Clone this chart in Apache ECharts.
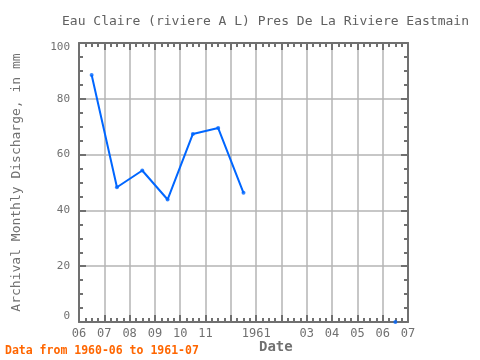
<!DOCTYPE html>
<html>
<head>
<meta charset="utf-8">
<script src="https://cdn.jsdelivr.net/npm/echarts@6/dist/echarts.min.js"></script>
<style>html,body{margin:0;padding:0;background:#fff}#c{width:480px;height:360px}</style>
</head>
<body>
<div id="c"></div>
<script>
const months = ['1960-06','1960-07','1960-08','1960-09','1960-10','1960-11','1960-12','1961-01','1961-02','1961-03','1961-04','1961-05','1961-06'];
const discharge = [88.5, 48.3, 54.3, 43.9, 67.4, 69.5, 46.3, null, null, null, null, null, 0];
const xTickLabels = ['06','07','08','09','10','11','','1961','','03','04','05','06','07'];
const yTicks = [0, 20, 40, 60, 80, 100];

const FONT = 'DejaVu Sans Mono';
const frame = '#707070';
const gridc = '#b4b4b4';
const txt = '#707070';

// position each month at mid-month on a month-index axis
const pts = months.map((m, i) => [i + 0.5, discharge[i]]);
const dots = pts.filter(p => p[1] !== null);

const chart = echarts.init(document.getElementById('c'), null, {renderer: 'canvas'});

function axisBase(min, max, interval) {
  return {
    type: 'value', min: min, max: max, interval: interval,
    axisLine: {show: true, onZero: false, lineStyle: {color: frame, width: 2}},
    axisTick: {show: true, inside: true, length: 7, lineStyle: {color: frame, width: 2}},
    minorTick: {show: true, splitNumber: 4, length: 4, lineStyle: {color: frame, width: 2}}
  };
}

chart.setOption({
  animation: false,
  backgroundColor: '#fff',
  title: {
    text: 'Eau Claire (riviere A L) Pres De La Riviere Eastmain',
    left: 57, top: 10,
    textStyle: {fontFamily: FONT, fontSize: 13, fontWeight: 'normal', color: '#606060'}
  },
  grid: {left: 79, right: 72, top: 43, bottom: 38, containLabel: false},
  xAxis: [
    Object.assign(axisBase(0, 13, 1), {
      position: 'bottom',
      splitLine: {show: true, lineStyle: {color: gridc, width: 1.5}},
      axisLabel: {
        show: true, margin: 6, fontFamily: FONT, fontSize: 12, color: txt,
        formatter: v => xTickLabels[Math.round(v)] || ''
      }
    }),
    Object.assign(axisBase(0, 13, 1), {
      position: 'top',
      splitLine: {show: false},
      axisLabel: {show: false}
    })
  ],
  yAxis: [
    Object.assign(axisBase(yTicks[0], yTicks[yTicks.length - 1], yTicks[1] - yTicks[0]), {
      position: 'left',
      name: 'Archival Monthly Discharge, in mm',
      nameLocation: 'middle', nameGap: 56,
      nameTextStyle: {fontFamily: FONT, fontSize: 13, color: txt},
      splitLine: {show: true, lineStyle: {color: gridc, width: 1.5}},
      axisLabel: {
        show: true, margin: 9, fontFamily: FONT, fontSize: 11, color: txt,
        formatter: v => v === 0 ? '{b|0}' : (v === 100 ? '{t|100}' : String(v)),
        rich: {
          b: {fontFamily: FONT, fontSize: 11, color: txt, padding: [0, 0, 11, 0]},
          t: {fontFamily: FONT, fontSize: 11, color: txt, padding: [8, 0, 0, 0]}
        }
      }
    }),
    Object.assign(axisBase(yTicks[0], yTicks[yTicks.length - 1], yTicks[1] - yTicks[0]), {
      position: 'right',
      splitLine: {show: false},
      axisLabel: {show: false}
    })
  ],
  graphic: [
    {type: 'text', left: 259, top: 340,
     style: {text: 'Date', fontFamily: FONT, fontSize: 14, fontWeight: 'bold', fill: txt}},
    {type: 'text', left: 5, top: 345,
     style: {text: 'Data from ' + months[0] + ' to 1961-07', fontFamily: FONT, fontSize: 11.5, fontWeight: 'bold', fill: '#ff6600'}}
  ],
  series: [
    {
      type: 'line', data: pts, connectNulls: false,
      showSymbol: false, symbol: 'none',
      lineStyle: {color: '#0066ff', width: 2}
    },
    {
      type: 'scatter', data: dots, symbol: 'circle', symbolSize: 4,
      clip: false, z: 20, zlevel: 1,
      itemStyle: {color: '#0066ff'}
    }
  ]
});
</script>
</body>
</html>
